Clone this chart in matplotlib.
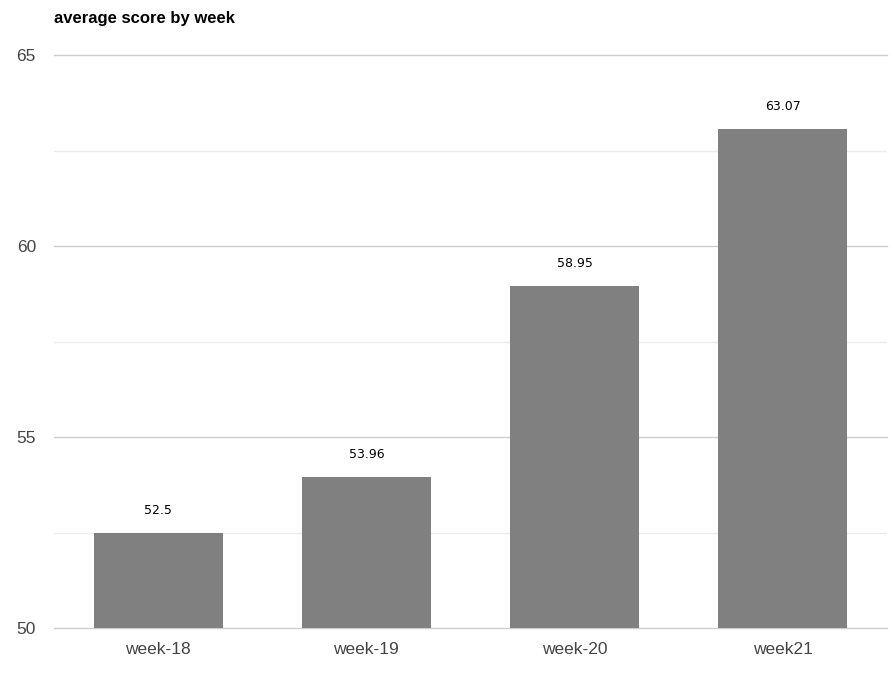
import matplotlib.pyplot as plt
from matplotlib.ticker import MultipleLocator

weeks = ["week-18", "week-19", "week-20", "week21"]
scores = [52.5, 53.96, 58.95, 63.07]
score_labels = ["52.5", "53.96", "58.95", "63.07"]

plt.rcParams['font.family'] = ['Liberation Sans', 'DejaVu Sans']

fig = plt.figure(figsize=(8.95, 6.75), dpi=100)
ax = fig.add_axes([0.0603, 0.0696, 0.9307, 0.8489])

x = range(len(weeks))
ax.bar(x, scores, width=0.62, color='#808080', zorder=3)

for i, v in enumerate(scores):
    ax.annotate(score_labels[i], (i, v), xytext=(0, 16), textcoords='offset points',
                ha='center', va='center', fontsize=9, color='black', family='DejaVu Sans')

ax.set_xlim(-0.5, 3.5)
ax.set_ylim(50, 65)
ax.set_xticks(list(x))
ax.set_xticklabels(weeks)
ax.yaxis.set_major_locator(MultipleLocator(5))
ax.yaxis.set_minor_locator(MultipleLocator(2.5))
ax.grid(which='major', axis='y', color='#cccccc', linewidth=1, zorder=0)
ax.grid(which='minor', axis='y', color='#ebebeb', linewidth=1, zorder=0)
for line in ax.get_ygridlines():
    line.set_clip_on(False)

for s in ax.spines.values():
    s.set_visible(False)
ax.tick_params(axis='both', which='both', length=0, labelsize=12.5, colors='#444444')
ax.tick_params(axis='y', pad=13)
ax.tick_params(axis='x', pad=10)

fig.text(54 / 895, 1 - 18 / 675, "average score by week", fontsize=12, fontweight='bold',
         ha='left', va='center', color='black')

fig.savefig('out.png', dpi=100)
